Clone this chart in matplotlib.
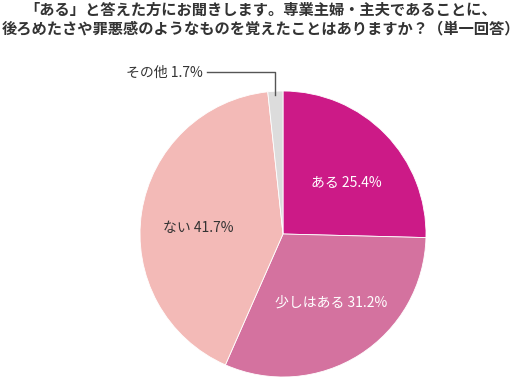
import matplotlib.pyplot as plt

plt.rcParams['font.family'] = ['Noto Sans CJK JP', 'DejaVu Sans']

labels = ["ある", "少しはある", "ない", "その他"]
values = [25.4, 31.2, 41.7, 1.7]
colors = ["#CC1A87", "#D4729F", "#F3BAB7", "#DCDCDC"]
text_colors = ["white", "white", "#333333", "#333333"]
title = "「ある」と答えた方にお聞きします。専業主婦・主夫であることに、\n後ろめたさや罪悪感のようなものを覚えたことはありますか？（単一回答）"

fig = plt.figure(figsize=(5.22, 3.78), dpi=100)
ax = fig.add_axes([140/522, 1/378, 286/522, 286/378])

wedges, _ = ax.pie(values, colors=colors, startangle=90, counterclock=False,
                   wedgeprops=dict(edgecolor="white", linewidth=0.6))
ax.set_xlim(-1, 1)
ax.set_ylim(-1, 1)
ax.set_aspect("equal")

# label positions inside wedges (data coords, radius 1)
pos = [(0.44, 0.36), (0.34, -0.48), (-0.59, 0.04)]
for i in range(3):
    ax.text(pos[i][0], pos[i][1], f"{labels[i]} {values[i]}%", ha="center", va="center",
            color=text_colors[i], fontsize=10)

# callout for その他
ax.plot([-0.53, -0.056, -0.056], [1.13, 1.13, 0.975], color="#555555", lw=1, clip_on=False)
ax.text(-0.56, 1.13, f"{labels[3]} {values[3]}%", ha="right", va="center",
        fontsize=10, color="#333333")

fig.text(0.5, 0.995, title, ha="center", va="top", fontsize=11, fontweight="bold",
         color="#333333", linespacing=1.2)

fig.savefig("out.png", dpi=100)
